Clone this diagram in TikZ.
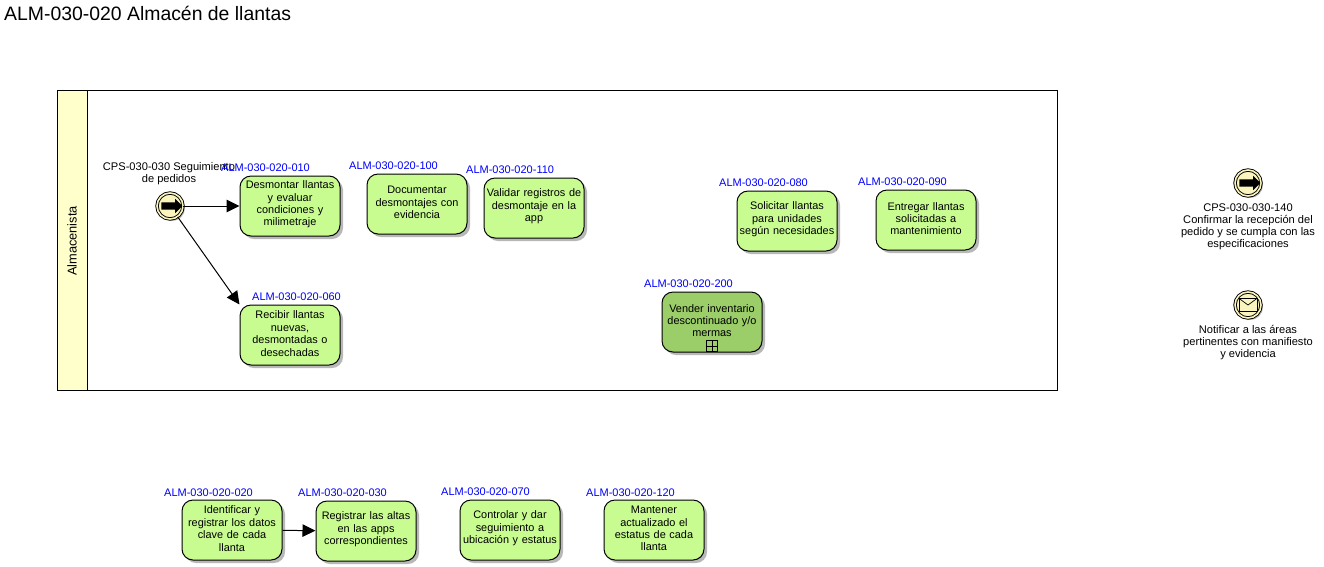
\documentclass[tikz,border=0pt]{standalone}
\usepackage{fontspec}
\setmainfont{Liberation Sans}
\usetikzlibrary{arrows.meta,shadows,shapes.arrows}
\definecolor{taskgreen}{RGB}{200,252,145}
\definecolor{subgreen}{RGB}{155,205,105}
\definecolor{eventfill}{RGB}{250,245,190}
\definecolor{lanefill}{RGB}{255,255,204}
\tikzset{
  tasknode/.style={draw,line width=1pt,rounded corners=11pt,fill=taskgreen,
    minimum width=100pt,minimum height=60pt,inner sep=0pt,text width=98pt,align=center,
    font=\fontsize{10.9}{12.4}\selectfont,execute at end node={\par\vspace{3pt}},
    drop shadow={shadow xshift=3pt,shadow yshift=-3pt,fill=black!28,opacity=1}},
  subnode/.style={tasknode,fill=subgreen},
  idlabel/.style={anchor=west,inner sep=0pt,text=blue,font=\fontsize{11}{12}\selectfont},
  eventnode/.style={circle,draw,line width=0.9pt,double=eventfill,double distance=1.6pt,fill=eventfill,
    minimum size=26pt,inner sep=0pt,
    drop shadow={shadow xshift=2pt,shadow yshift=-2pt,fill=black!28,opacity=1}},
  eventlabel/.style={align=center,inner sep=0pt,font=\fontsize{11.1}{12}\selectfont},
  linkicon/.style={single arrow,fill=black,minimum height=21pt,
    single arrow head extend=3.5pt,inner xsep=0pt,inner ysep=3.5pt},
  flowarrow/.style={draw,line width=1pt,-{Triangle[length=13pt,width=12.5pt]}}
}
\begin{document}
\begin{tikzpicture}[x=1pt,y=-1pt]
  \useasboundingbox (0,0) rectangle (1324,566);
  \node[anchor=west,inner sep=0pt,font=\fontsize{19.4}{20}\selectfont] (title) at (4,13) {ALM-030-020 Almacén de llantas};
  % pool
  \node[draw,line width=1pt,fill=white,minimum width=1000pt,minimum height=299.5pt,inner sep=0pt] (pool) at (557,240.5) {};
  \node[draw,line width=1pt,fill=lanefill,minimum width=30pt,minimum height=299.5pt,inner sep=0pt] (lane) at (72,240.5) {};
  \node[rotate=90,inner sep=0pt,font=\fontsize{12.8}{14}\selectfont] (lanename) at (72,241) {Almacenista};
  % events
  \node[eventnode] (ev030) at (170,206) {};
  \node[linkicon] (ev030icon) at (170,206) {};
  \node[eventlabel] (ev030label) at (169,174) {CPS-030-030 Seguimiento\\de pedidos};
  \node[eventnode] (ev140) at (1248,183) {};
  \node[linkicon] (ev140icon) at (1248,183) {};
  \node[eventlabel] (ev140label) at (1248,227) {CPS-030-030-140\\Confirmar la recepción del\\pedido y se cumpla con las\\especificaciones};
  \node[eventnode] (evmail) at (1248,305) {};
  \node[draw,fill=eventfill,line width=0.7pt,minimum width=18pt,minimum height=13pt,inner sep=0pt] (mailicon) at (1248,305) {};
  \draw[line width=0.7pt] (mailicon.north west) -- (mailicon.center) -- (mailicon.north east);
  \node[eventlabel] (evmaillabel) at (1248,343) {Notificar a las áreas\\pertinentes con manifiesto\\y evidencia};
  % tasks
  \node[tasknode] (t010) at (290,206) {Desmontar llantas\\y evaluar\\condiciones y\\milimetraje};
  \node[tasknode] (t100) at (417,204) {Documentar\\desmontajes con\\evidencia};
  \node[tasknode] (t110) at (534,208) {Validar registros de\\desmontaje en la\\app};
  \node[tasknode] (t060) at (290,335) {Recibir llantas\\nuevas,\\desmontadas o\\desechadas};
  \node[tasknode] (t080) at (787,221) {Solicitar llantas\\para unidades\\según necesidades};
  \node[tasknode] (t090) at (926,220) {Entregar llantas\\solicitadas a\\mantenimiento};
  \node[subnode] (t200) at (712,322) {Vender inventario\\descontinuado y/o\\mermas};
  \node[draw,line width=0.7pt,minimum size=11pt,inner sep=0pt] (t200mark) at (712,346) {};
  \draw[line width=0.7pt] (t200mark.north) -- (t200mark.south) (t200mark.west) -- (t200mark.east);
  \node[tasknode] (t020) at (232,530) {Identificar y\\registrar los datos\\clave de cada\\llanta};
  \node[tasknode] (t030) at (366,531) {Registrar las altas\\en las apps\\correspondientes};
  \node[tasknode] (t070) at (510,530) {Controlar y dar\\seguimiento a\\ubicación y estatus};
  \node[tasknode] (t120) at (654,530) {Mantener\\actualizado el\\estatus de cada\\llanta};
  % ids
  \node[idlabel] (id010) at (221,168) {ALM-030-020-010};
  \node[idlabel] (id100) at (349,166) {ALM-030-020-100};
  \node[idlabel] (id110) at (466,170) {ALM-030-020-110};
  \node[idlabel] (id060) at (252,297) {ALM-030-020-060};
  \node[idlabel] (id080) at (719,183) {ALM-030-020-080};
  \node[idlabel] (id090) at (858,182) {ALM-030-020-090};
  \node[idlabel] (id200) at (644,284) {ALM-030-020-200};
  \node[idlabel] (id020) at (164,493) {ALM-030-020-020};
  \node[idlabel] (id030) at (298,493) {ALM-030-020-030};
  \node[idlabel] (id070) at (441,492) {ALM-030-020-070};
  \node[idlabel] (id120) at (586,493) {ALM-030-020-120};
  % flows
  \draw[flowarrow] (ev030) -- (t010);
  \draw[flowarrow] (ev030) -- (t060.north west);
  \draw[flowarrow] (t020) -- (t030);
\end{tikzpicture}
\end{document}
